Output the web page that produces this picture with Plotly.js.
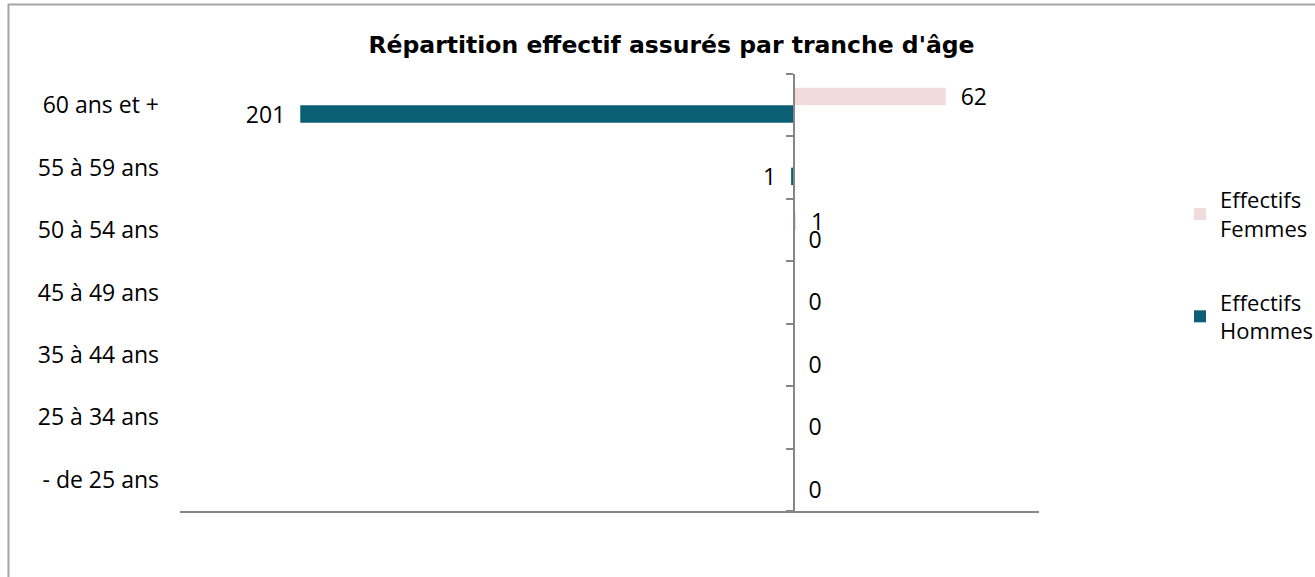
<!DOCTYPE html>
<html><head><meta charset="utf-8">
<script src="https://cdn.plot.ly/plotly-3.0.1.min.js"></script>
<style>html,body{margin:0;padding:0;background:#fff}</style>
</head><body><div id="chart" style="width:1315px;height:577px"></div>
<script>
const categories = ["- de 25 ans","25 à 34 ans","35 à 44 ans","45 à 49 ans","50 à 54 ans","55 à 59 ans","60 ans et +"];
const femmes = [null, null, null, null, 1, null, 62];
const hommes = [0, 0, 0, 0, 0, 1, 201];
const seriesNames = ["Effectifs<br>Femmes", "Effectifs<br>Hommes"];

const xRange = [-250, 100];
const W = 1315, H = 577, L = 180, R = 276, T = 74, B = 66;
const plotW = W - L - R, plotH = H - T - B;
const pad = '\u00a0\u00a0';
const lbl = v => (v === null ? '' : pad + v + pad);
const FONT = '"Open Sans", sans-serif';

const traces = [
  {type: 'bar', orientation: 'h', name: seriesNames[1], legendgroup: 'h', legendrank: 2,
   y: categories, x: hommes.map(v => -v), text: hommes.map(lbl),
   textposition: 'outside', constraintext: 'none', cliponaxis: false,
   outsidetextfont: {family: FONT, size: 23, color: '#000'},
   marker: {color: '#0B5F75'}, hoverinfo: 'skip'},
  {type: 'bar', orientation: 'h', name: seriesNames[0], legendgroup: 'f', legendrank: 1,
   y: categories, x: femmes, text: femmes.map(lbl),
   textposition: 'outside', constraintext: 'none', cliponaxis: false,
   outsidetextfont: {family: FONT, size: 23, color: '#000'},
   marker: {color: '#F2DCDB'}, hoverinfo: 'skip'},
  {type: 'scatter', mode: 'none', y: categories, x: categories.map(() => 0),
   yaxis: 'y2', showlegend: false, hoverinfo: 'skip'}
];

const layout = {
  width: W, height: H,
  margin: {l: L, r: R, t: T, b: B, pad: 0, autoexpand: false},
  paper_bgcolor: '#fff', plot_bgcolor: '#fff',
  font: {family: FONT, size: 22, color: '#000'},
  title: {text: "Répartition effectif assurés par tranche d'âge",
          font: {family: '"DejaVu Sans", sans-serif', size: 23.5, color: '#000', weight: 'bold'},
          xref: 'container', x: 671.5 / W, xanchor: 'center',
          yref: 'container', y: 1 - 45 / H, yanchor: 'middle'},
  barmode: 'group', bargap: 0.44, bargroupgap: 0,
  showlegend: true,
  legend: {x: (1180 - L) / plotW, xanchor: 'left', y: (T + plotH - 179) / plotH, yanchor: 'top',
           traceorder: 'grouped', tracegroupgap: 42,
           font: {family: FONT, size: 22, color: '#000'}, bgcolor: 'rgba(0,0,0,0)'},
  xaxis: {range: xRange, showgrid: false, zeroline: false, showticklabels: false,
          ticks: '', showline: true, linecolor: '#868686', linewidth: 2, fixedrange: true},
  yaxis: {type: 'category', categoryorder: 'array', categoryarray: categories,
          range: [-0.5, categories.length - 0.5], showgrid: false, zeroline: false,
          showline: false, ticks: '', ticklabelstandoff: 20,
          tickfont: {family: FONT, size: 23, color: '#000'}, fixedrange: true},
  yaxis2: {type: 'category', categoryorder: 'array', categoryarray: categories,
           range: [-0.5, categories.length - 0.5], overlaying: 'y', anchor: 'free',
           position: (0 - xRange[0]) / (xRange[1] - xRange[0]), side: 'left',
           showgrid: false, zeroline: false, showline: true, linecolor: '#868686', linewidth: 2,
           ticks: 'outside', tickson: 'boundaries', ticklen: 7, tickwidth: 2, tickcolor: '#868686',
           showticklabels: false, fixedrange: true},
  shapes: [{type: 'rect', xref: 'paper', yref: 'paper',
            x0: (8.5 - L) / plotW, x1: (W + 20 - L) / plotW,
            y0: (T + plotH - (H + 20)) / plotH, y1: (T + plotH - 4.5) / plotH,
            line: {color: '#A6A6A6', width: 2}, layer: 'below'}]
};

Plotly.newPlot('chart', traces, layout, {staticPlot: true, displayModeBar: false});
</script>
</body></html>
